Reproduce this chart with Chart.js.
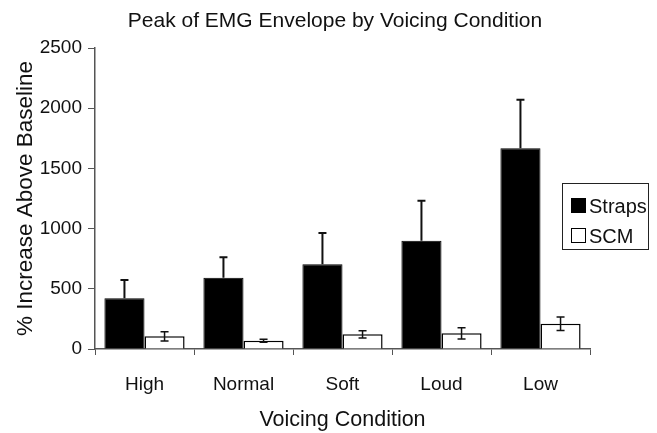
<!DOCTYPE html>
<html>
<head>
<meta charset="utf-8">
<script src="https://cdn.jsdelivr.net/npm/chart.js@4/dist/chart.umd.min.js"></script>
<style>
  body { margin: 0; background: #fff; }
  canvas { display: block; }
</style>
</head>
<body>
<canvas id="myChart" width="657" height="433"></canvas>
<script>
// --- data ---
const categories = ['High', 'Normal', 'Soft', 'Loud', 'Low'];
const strapsValues = [421, 592, 703, 900, 1667];
const strapsErrors = [152, 170, 260, 332, 404];
const scmValues = [105, 69, 122, 130, 210];
const scmErrors = [38, 12, 30, 47, 56];
const yTicks = [0, 500, 1000, 1500, 2000, 2500];
const chartTitle = 'Peak of EMG Envelope by Voicing Condition';

const fontName = '"Liberation Sans", Arial, sans-serif';
const axisColor = '#555';

// title is centred a bit right of the plot, so draw it by hand
const titleText = {
    id: 'titleText',
    afterDraw(chart) {
        const c = chart.ctx;
        c.save();
        c.font = '21px ' + fontName;
        c.fillStyle = '#111';
        c.textAlign = 'center';
        c.textBaseline = 'middle';
        c.fillText(chartTitle, 335, 21);
        c.restore();
    }
};

// error bars: straps only upward, SCM both ways
const errorBars = {
    id: 'errorBars',
    afterDatasetsDraw(chart) {
        const c = chart.ctx;
        const yScale = chart.scales.y;
        chart.data.datasets.forEach((ds, di) => {
            const meta = chart.getDatasetMeta(di);
            meta.data.forEach((bar, i) => {
                const v = ds.data[i];
                const e = ds.errors[i];
                const yTop = yScale.getPixelForValue(v + e);
                const yMid = yScale.getPixelForValue(v);
                const yLow = ds.bothWays ? yScale.getPixelForValue(v - e) : yMid;
                c.save();
                c.strokeStyle = '#111';
                c.lineWidth = ds.bothWays ? 1.5 : 2;
                c.beginPath();
                c.moveTo(bar.x, yLow);
                c.lineTo(bar.x, yTop);
                c.moveTo(bar.x - 4, yTop);
                c.lineTo(bar.x + 4, yTop);
                if (ds.bothWays) {
                    c.moveTo(bar.x - 4, yLow);
                    c.lineTo(bar.x + 4, yLow);
                }
                c.stroke();
                c.restore();
            });
        });
    }
};

// boxed legend sitting over the right edge of the plot
const boxLegend = {
    id: 'boxLegend',
    afterDraw(chart) {
        const c = chart.ctx;
        const x = 562, y = 183, w = 86, h = 66;
        c.save();
        c.fillStyle = '#fff';
        c.fillRect(x, y, w, h);
        c.strokeStyle = '#222';
        c.lineWidth = 1;
        c.strokeRect(x + 0.5, y + 0.5, w, h);
        c.font = '20px ' + fontName;
        c.textBaseline = 'middle';
        chart.data.datasets.forEach((ds, i) => {
            const ry = y + 23 + i * 30;
            c.fillStyle = ds.backgroundColor;
            c.fillRect(571, ry - 8, 15, 15);
            c.strokeStyle = '#000';
            c.lineWidth = 1;
            c.strokeRect(571.5, ry - 7.5, 14, 14);
            c.fillStyle = '#111';
            c.fillText(ds.label, 589, ry + 1);
        });
        c.restore();
    }
};

const ctx = document.getElementById('myChart');

new Chart(ctx, {
    type: 'bar',
    data: {
        labels: categories,
        datasets: [
            {
                label: 'Straps',
                data: strapsValues,
                errors: strapsErrors,
                bothWays: false,
                backgroundColor: '#000',
                borderColor: '#000',
                borderWidth: 1
            },
            {
                label: 'SCM',
                data: scmValues,
                errors: scmErrors,
                bothWays: true,
                backgroundColor: '#fff',
                borderColor: '#000',
                borderWidth: 1.5
            }
        ]
    },
    options: {
        responsive: false,
        animation: false,
        categoryPercentage: 0.81,
        barPercentage: 1,
        layout: { padding: { left: 0, right: 67, top: 48, bottom: 0 } },
        plugins: {
            legend: { display: false },
            tooltip: { enabled: false },
            title: { display: false }
        },
        scales: {
            x: {
                grid: { drawOnChartArea: false, tickLength: 6, color: axisColor, offset: true },
                border: { color: axisColor, width: 1.5 },
                ticks: { color: '#111', padding: 18, font: { family: fontName, size: 19 } },
                title: {
                    display: true,
                    text: 'Voicing Condition',
                    color: '#111',
                    font: { family: fontName, size: 21.5 },
                    padding: { top: 0, bottom: 0 }
                },
                afterFit: (s) => { s.height = 84; }
            },
            y: {
                min: 0,
                max: 2500,
                afterBuildTicks: (s) => { s.ticks = yTicks.map(v => ({ value: v })); },
                grid: { drawOnChartArea: false, tickLength: 7, color: axisColor },
                border: { color: axisColor, width: 1.5 },
                ticks: {
                    color: '#111',
                    padding: 6,
                    font: { family: fontName, size: 19 },
                    callback: (v) => String(v)
                },
                title: {
                    display: true,
                    text: '% Increase Above Baseline',
                    color: '#111',
                    font: { family: fontName, size: 22.5 },
                    padding: { top: 12, bottom: 0 }
                },
                afterFit: (s) => { s.width = 95; }
            }
        }
    },
    plugins: [errorBars, boxLegend, titleText]
});
</script>
</body>
</html>
